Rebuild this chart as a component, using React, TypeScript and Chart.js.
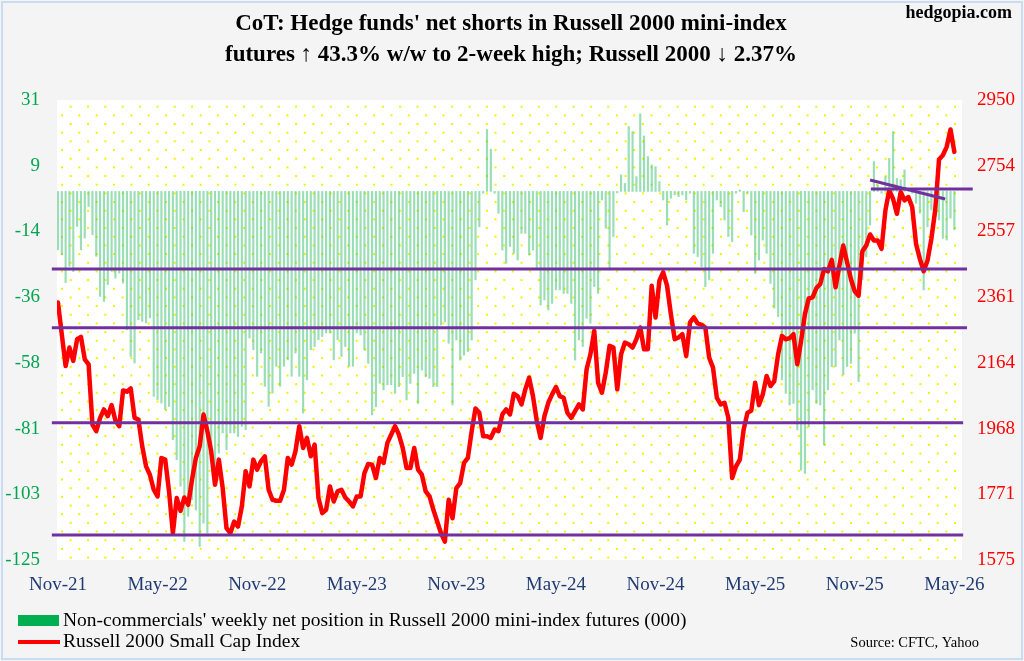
import { useEffect, useRef } from "react";
import { Chart, registerables } from "chart.js";

Chart.register(...registerables);

const xTickLabels = ["Nov-21", "May-22", "Nov-22", "May-23", "Nov-23", "May-24", "Nov-24", "May-25", "Nov-25", "May-26"];
const xTickWeeks = [0, 26, 52, 78, 104, 130, 156, 182, 208, 234];
const leftTickLabels = ["31", "9", "-14", "-36", "-58", "-81", "-103", "-125"];
const rightTickLabels = ["2950", "2754", "2557", "2361", "2164", "1968", "1771", "1575"];

// Non-commercials' weekly net position (000), Nov-21 .. May-26
const netPosition = [
  -19.8, -21.5, -30.9, -25.4, -27.2, -11.9, -19.8, -15.8, -5.1, -14.7,
  -22, -35.6, -37.3, -31.6, -27.1, -29.4, -27.7, -31.1, -46.9, -56,
  -58.2, -43.5, -44.1, -44.6, -42.9, -69.5, -70.6, -71.8, -74, -72.9,
  -84.2, -91, -100, -118.7, -110.2, -104.5, -108, -120.4, -112.5, -115.9,
  -87.6, -93.3, -88.8, -81.9, -87.6, -81.9, -81.9, -83.1, -79.7, -80.8,
  -49.7, -53.7, -62.7, -54.8, -66.1, -72.9, -68.4, -59.3, -66.1, -59.3,
  -57.1, -62.7, -54.8, -62.7, -75.2, -63.9, -53.7, -52.6, -50.3, -49.2,
  -48, -48, -57.1, -50.3, -56, -52.6, -59.3, -59.3, -48, -48.7,
  -53.8, -58.3, -75.8, -73, -65.1, -67.3, -65.6, -65.6, -68.5, -66.2,
  -62.8, -70.7, -65.1, -61.7, -71.9, -60.6, -62.8, -63.4, -66.2, -66.2,
  -45.3, -44.2, -51.5, -72.4, -50.4, -57.2, -55.5, -54.3, -50.4, -30,
  -12, -0.6, 21, 14.3, -0.6, -7.4, -19.9, -24.4, -18.7, -21,
  -23.3, -14.2, -14.2, -21.6, -19.9, -26.6, -38.5, -36.8, -40.2, -38,
  -33.4, -33.4, -34.6, -34.6, -38, -57.2, -50.4, -52.6, -43, -44.7,
  -32.3, -34.6, -2.9, -12.5, -26.6, -15.3, -0.5, 5.6, 2.7, 22,
  20.3, 5, 26.3, 18.8, 11.8, 9, 8.4, 3.3, -2.9, -11.4,
  -2.3, -1.2, -1.8, -1.2, -2.9, -0.6, -21, -22.1, -25.5, -32.3,
  -30, -21, -2.9, -5.2, -9.7, -15.3, -17, -0.6, 0.5, -6.9,
  -0.6, -14.8, -27.8, -23.3, -16.5, -21, -31.2, -39.6, -42.5, -63.9,
  -68.5, -72.4, -71.9, -80.9, -94.5, -95.6, -79.8, -67.3, -71.9, -72.4,
  -86, -67.3, -59.4, -59.4, -50.4, -62.2, -59.4, -58.3, -48.1, -64.5,
  -30, -22.1, -11.4, 10.1, 2.2, -0.6, 5, 11.2, 20.3, 4.4,
  3.9, 7.3, 1, -0.6, -4, -7.4, -33.4, -12, -6.3, -5.7,
  -9.7, -15.9, -16.5, -9.1, -13,
];

// Russell 2000 Small Cap Index, weekly
const russell2000 = [
  2345, 2250, 2155, 2210, 2170, 2235, 2242, 2175, 2160, 1980,
  1960, 2000, 2025, 2005, 2038, 1992, 1975, 2082, 2078, 2088,
  2000, 1995, 1915, 1855, 1830, 1785, 1765, 1880, 1875, 1780,
  1655, 1760, 1722, 1762, 1740, 1815, 1880, 1915, 2010, 1960,
  1900, 1800, 1875, 1790, 1670, 1655, 1690, 1675, 1735, 1840,
  1795, 1875, 1845, 1870, 1885, 1785, 1755, 1752, 1752, 1785,
  1880, 1860, 1900, 1975, 1910, 1940, 1885, 1920, 1760, 1715,
  1725, 1795, 1750, 1780, 1785, 1762, 1750, 1735, 1765, 1765,
  1835, 1862, 1860, 1820, 1880, 1865, 1925, 1950, 1975, 1950,
  1910, 1850, 1850, 1910, 1845, 1830, 1780, 1765, 1725, 1690,
  1655, 1630, 1755, 1700, 1790, 1805, 1865, 1880, 1960, 2028,
  2015, 1945, 1945, 1940, 1965, 1960, 2010, 2025, 2010, 2072,
  2065, 2040, 2085, 2120, 2065, 1990, 1940, 2005, 2045, 2070,
  2092, 2065, 2060, 2015, 2000, 2020, 2040, 2025, 2145, 2190,
  2260, 2105, 2075, 2135, 2215, 2210, 2085, 2190, 2225, 2220,
  2210, 2235, 2270, 2205, 2205, 2395, 2300, 2410, 2435, 2395,
  2310, 2235, 2240, 2250, 2185, 2285, 2300, 2282, 2278, 2270,
  2180, 2150, 2060, 2040, 2045, 2000, 1820, 1855, 1875, 1965,
  2015, 2022, 2105, 2038, 2070, 2125, 2095, 2110, 2190, 2245,
  2235, 2238, 2250, 2160, 2230, 2310, 2357, 2360, 2388, 2400,
  2445, 2438, 2472, 2390, 2455, 2515, 2465, 2415, 2378, 2365,
  2498, 2515, 2548, 2530, 2530, 2505, 2620, 2680, 2655, 2610,
  2675, 2650, 2660, 2630, 2520, 2475, 2438, 2470, 2535, 2620,
  2772, 2785, 2810, 2862, 2795,
];

// Drawn support / resistance levels on the index scale
const supportLevels = [2445, 2269, 1985, 1650];
const trendFallingValues = [2711, 2654];
const trendFlatValue = 2684;

const LEFT_MIN = -125;
const LEFT_MAX = 31;
const RIGHT_MIN = 1575;
const RIGHT_MAX = 2950;

const SERIF = '"Liberation Serif", "Times New Roman", serif';

const backgroundPlugin = {
  id: "bgdots",
  beforeDraw(chart: any) {
    const { ctx, chartArea, width, height } = chart;
    ctx.save();
    ctx.fillStyle = "#f4f4f4";
    ctx.fillRect(0, 0, width, height);
    ctx.strokeStyle = "#c9dcf2";
    ctx.lineWidth = 2;
    ctx.strokeRect(2, 2, width - 4, height - 4);
    const { left, right, top, bottom } = chartArea;
    ctx.fillStyle = "#ffffff";
    ctx.fillRect(left, top, right - left, bottom - top);
    ctx.fillStyle = "#f2f200";
    const step = 8.67;
    let k = 0;
    for (let y = top + 6.7; y < bottom; y += step, k++) {
      const start = left + (k % 2 === 0 ? 13.7 : 5);
      for (let x = start; x < right; x += step * 2) {
        ctx.fillRect(x - 1, y - 1, 2, 2);
      }
    }
    ctx.restore();
  },
  afterDraw(chart: any) {
    const { ctx } = chart;
    ctx.save();
    ctx.fillStyle = "#000000";
    ctx.textBaseline = "middle";
    ctx.textAlign = "center";
    ctx.font = `bold 23px ${SERIF}`;
    ctx.fillText("CoT: Hedge funds' net shorts in Russell 2000 mini-index", 511, 24);
    ctx.fillText("futures \u2191 43.3% w/w to 2-week high; Russell 2000 \u2193 2.37%", 511, 55);
    ctx.textAlign = "right";
    ctx.font = `bold 18px ${SERIF}`;
    ctx.fillText("hedgopia.com", 1012, 13);

    // legend
    ctx.fillStyle = "#00b050";
    ctx.fillRect(18, 615, 41, 11);
    ctx.strokeStyle = "#ff0000";
    ctx.lineWidth = 4;
    ctx.beginPath();
    ctx.moveTo(18, 642);
    ctx.lineTo(60, 642);
    ctx.stroke();
    ctx.fillStyle = "#000000";
    ctx.textAlign = "left";
    ctx.font = `19.5px ${SERIF}`;
    ctx.fillText("Non-commercials' weekly net position in Russell 2000 mini-index futures (000)", 63, 621);
    ctx.fillText("Russell 2000 Small Cap Index", 63, 642);
    ctx.textAlign = "right";
    ctx.font = `14.5px ${SERIF}`;
    ctx.fillText("Source: CFTC, Yahoo", 979, 643);
    ctx.restore();
  },
};

export default function App() {
  const canvasRef = useRef<HTMLCanvasElement | null>(null);

  useEffect(() => {
    document.body.style.margin = "0";
    const canvas = canvasRef.current;
    if (!canvas) return;

    const purple = "#7030a0";
    const lineDatasets: any[] = supportLevels.map((lvl, idx) => ({
      type: "line",
      data: [
        { x: -1.6, y: lvl },
        { x: idx < 2 ? 237.3 : 236.3, y: lvl },
      ],
      borderColor: purple,
      borderWidth: 3,
      pointRadius: 0,
      clip: false,
      yAxisID: "y2",
      xAxisID: "x",
      order: 1,
    }));
    lineDatasets.push({
      type: "line",
      data: [
        { x: 212, y: trendFallingValues[0] },
        { x: 231.6, y: trendFallingValues[1] },
      ],
      borderColor: purple,
      borderWidth: 3,
      pointRadius: 0,
      clip: false,
      yAxisID: "y2",
      xAxisID: "x",
      order: 1,
    });
    lineDatasets.push({
      type: "line",
      data: [
        { x: 212.2, y: trendFlatValue },
        { x: 238.8, y: trendFlatValue },
      ],
      borderColor: purple,
      borderWidth: 3,
      pointRadius: 0,
      clip: false,
      yAxisID: "y2",
      xAxisID: "x",
      order: 1,
    });

    const chart = new Chart(canvas, {
      type: "bar",
      data: {
        datasets: [
          {
            type: "bar",
            label: "Non-commercials' weekly net position in Russell 2000 mini-index futures (000)",
            data: netPosition.map((v, i) => ({ x: i, y: v })),
            backgroundColor: "rgba(70, 195, 120, 0.55)",
            barThickness: 1.5,
            yAxisID: "y",
            xAxisID: "x",
            order: 3,
          } as any,
          {
            type: "line",
            label: "Russell 2000 Small Cap Index",
            data: russell2000.map((v, i) => ({ x: i, y: v })),
            borderColor: "#ff0000",
            borderWidth: 4.5,
            pointRadius: 0,
            tension: 0,
            borderJoinStyle: "round",
            borderCapStyle: "round",
            yAxisID: "y2",
            xAxisID: "x",
            order: 2,
          } as any,
          ...lineDatasets,
        ],
      },
      options: {
        responsive: false,
        animation: false,
        events: [],
        layout: { padding: { top: 100, left: 0, right: 0, bottom: 0 } },
        plugins: {
          legend: { display: false },
          tooltip: { enabled: false },
          title: { display: false },
        },
        scales: {
          x: {
            type: "linear",
            min: -0.25,
            max: 236,
            bounds: "data",
            offset: false,
            grid: { display: false, drawTicks: false, offset: false },
            border: { display: false },
            afterBuildTicks: (s: any) => {
              s.ticks = xTickWeeks.map((v) => ({ value: v }));
            },
            afterFit: (s: any) => {
              s.height = 101;
              s.paddingLeft = 0;
              s.paddingRight = 0;
            },
            ticks: {
              autoSkip: false,
              maxRotation: 0,
              padding: 14,
              color: "#1f3b73",
              font: { family: SERIF, size: 19 },
              callback: (_v: any, i: number) => xTickLabels[i],
            },
          },
          y: {
            type: "linear",
            position: "left",
            min: LEFT_MIN,
            max: LEFT_MAX,
            grid: { display: false, drawTicks: false },
            border: { display: false },
            afterBuildTicks: (s: any) => {
              const stp = (LEFT_MAX - LEFT_MIN) / (leftTickLabels.length - 1);
              s.ticks = leftTickLabels.map((_, k) => ({ value: LEFT_MAX - k * stp }));
            },
            afterFit: (s: any) => {
              s.width = 57;
            },
            ticks: {
              padding: 17,
              color: "#00a651",
              font: { family: SERIF, size: 19 },
              callback: (_v: any, i: number) => leftTickLabels[i],
            },
          },
          y2: {
            type: "linear",
            position: "right",
            min: RIGHT_MIN,
            max: RIGHT_MAX,
            grid: { display: false, drawTicks: false },
            border: { display: false },
            afterBuildTicks: (s: any) => {
              const stp = (RIGHT_MAX - RIGHT_MIN) / (rightTickLabels.length - 1);
              s.ticks = rightTickLabels.map((_, k) => ({ value: RIGHT_MAX - k * stp }));
            },
            afterFit: (s: any) => {
              s.width = 62;
            },
            ticks: {
              padding: 15,
              color: "#ff0000",
              font: { family: SERIF, size: 19 },
              callback: (_v: any, i: number) => rightTickLabels[i],
            },
          },
        },
      },
      plugins: [backgroundPlugin],
    });

    return () => chart.destroy();
  }, []);

  return (
    <div style={{ width: 1024, height: 661, position: "relative" }}>
      <canvas ref={canvasRef} width={1024} height={661} style={{ width: 1024, height: 661, display: "block" }} />
    </div>
  );
}
